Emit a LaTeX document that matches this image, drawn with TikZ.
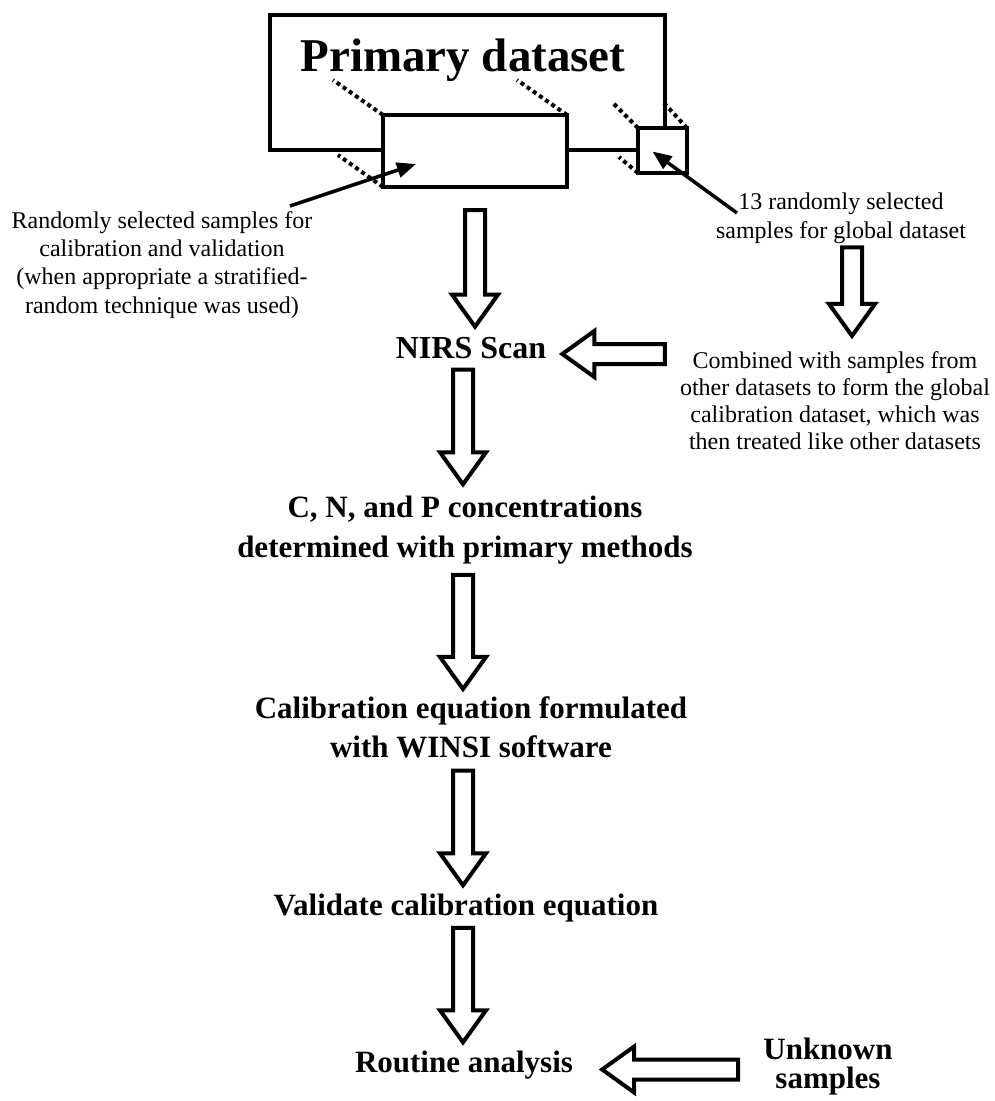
\documentclass[tikz,border=0pt]{standalone}
\usepackage{fontspec}
\setmainfont{Liberation Serif}
\usetikzlibrary{calc,arrows.meta}
\tikzset{
  blockarrow/.style={draw, line width=4pt, line join=miter, fill=white,
    to path={let \p1=(\tikztostart), \p2=(\tikztotarget), \p3=($(\p2)!32pt!(\p1)$) in
      ($(\p1)!10pt!90:(\p2)$) -- ($(\p3)!10pt!90:(\p2)$) -- ($(\p3)!23pt!90:(\p2)$) -- (\p2)
      -- ($(\p3)!23pt!-90:(\p2)$) -- ($(\p3)!10pt!-90:(\p2)$) -- ($(\p1)!10pt!-90:(\p2)$) -- cycle}},
  boxshape/.style={draw, line width=4pt, fill=white, inner sep=0pt},
  dotline/.style={line width=4pt, dash pattern=on 4pt off 3.5pt},
  pointer/.style={line width=3.5pt, -{Triangle[length=19pt,width=15pt]}},
  boldtxt/.style={font=\bfseries\fontsize{31}{39}\selectfont, align=center, inner sep=0pt, anchor=base},
  smalltxt/.style={font=\fontsize{24}{28.3}\selectfont, align=center, inner sep=0pt, anchor=base},
}
\begin{document}
\begin{tikzpicture}[x=1pt,y=-1pt]
\useasboundingbox (0,0) rectangle (995,1101);
\fill[white] (0,0) rectangle (995,1101);

% primary dataset box
\node[boxshape, minimum width=395, minimum height=135] (primary) at (467.5,82.5) {};
\node[font=\bfseries\fontsize{47}{50}\selectfont, inner sep=0pt, anchor=base] (title) at (463,71) {Primary dataset};

% projection lines
\draw[dotline] (383,115) -- +(-50,-35);
\draw[dotline] (567,115) -- +(-50,-35);
\draw[dotline] (383,187) -- +(-45,-32);
\draw[dotline] (638,128) -- +(-25,-25);
\draw[dotline] (687,128) -- +(-24,-26);
\draw[dotline] (638,173) -- +(-19,-16);

% selected subsets
\node[boxshape, minimum width=184, minimum height=72] (sel) at (475,151) {};
\node[boxshape, minimum width=49, minimum height=45] (glob) at (662.5,150.5) {};

% side texts (base = baseline of the last line)
\node[smalltxt] (lefttxt) at (162,313) {Randomly selected samples for\\calibration and validation\\(when appropriate a stratified-\\random technique was used)};
\node[smalltxt] (gtxt) at (841,238) {13 randomly selected\\samples for global dataset};
\node[smalltxt, font=\fontsize{24}{27}\selectfont] (comb) at (835,449) {Combined with samples from\\other datasets to form the global\\calibration dataset, which was\\then treated like other datasets};

% main flow texts
\node[boldtxt, font=\bfseries\fontsize{32}{39}\selectfont] (nirs) at (471,358) {NIRS Scan};
\node[boldtxt, font=\bfseries\fontsize{31}{40}\selectfont] (cnp) at (465,557) {C, N, and P concentrations\\determined with primary methods};
\node[boldtxt] (cal) at (471,757) {Calibration equation formulated\\with WINSI software};
\node[boldtxt] (val) at (466,915) {Validate calibration equation};
\node[boldtxt] (rout) at (464,1072) {Routine analysis};
\node[boldtxt, font=\bfseries\fontsize{31}{28.5}\selectfont] (unk) at (828,1088) {Unknown\\samples};

% pointer arrows
\draw[pointer] ($(lefttxt.base)+(128,-107)$) -- ($(sel.south west)+(35,-25)$);
\draw[pointer] ($(gtxt.base)+(-104,-25)$) -- ($(glob.center)+(-10,1)$);

% block arrows
\draw[blockarrow] ($(sel.south)+(0,21)$) to ($(sel.south |- nirs.north)+(0,-10)$);
\draw[blockarrow] ($(cnp.north |- nirs.south)+(-2,11)$) to ($(cnp.north)+(-2,-11)$);
\draw[blockarrow] ($(cnp.south)+(-2,11)$) to ($(cnp.south |- cal.north)+(-2,-7)$);
\draw[blockarrow] ($(cnp.south |- cal.south)+(-2,13)$) to ($(cnp.south |- val.north)+(-2,-8)$);
\draw[blockarrow] ($(cnp.south |- val.south)+(-2,6)$) to ($(cnp.south |- rout.north)+(-2,-8)$);
\draw[blockarrow] ($(gtxt.south)+(11,4)$) to ($(gtxt.south |- comb.north)+(11,-15)$);
\draw[blockarrow] ($(comb.west |- nirs.base)+(-15,-4)$) to ($(nirs.base east)+(16,-4)$);
\draw[blockarrow] ($(unk.west |- rout.base)+(-25,-2.5)$) to ($(rout.base east)+(29,-2.5)$);
\end{tikzpicture}
\end{document}
